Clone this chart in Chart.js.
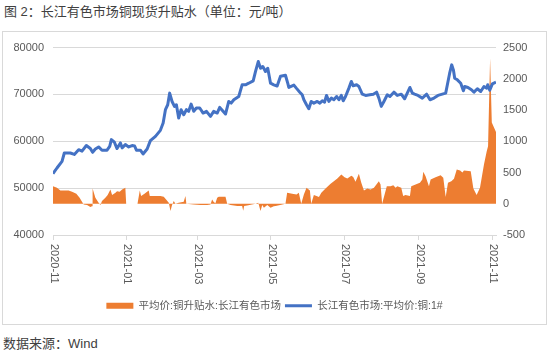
<!DOCTYPE html>
<html><head><meta charset="utf-8">
<script src="https://cdn.jsdelivr.net/npm/chart.js@4/dist/chart.umd.min.js"></script>
<style>
html,body{margin:0;padding:0;background:#fff;}
body{width:555px;height:360px;position:relative;overflow:hidden;font-family:"Liberation Sans","Noto Sans CJK SC",sans-serif;}
#title{position:absolute;left:4px;top:3px;font-size:13px;color:#404040;white-space:nowrap;line-height:18px;}
#box{position:absolute;left:2px;top:31px;width:543px;height:292px;border:1px solid #d9d9d9;}
#src{position:absolute;left:3px;top:335px;font-size:13px;color:#404040;line-height:18px;white-space:nowrap;}
canvas{display:block;}
</style></head>
<body>
<div id="title">图 2：长江有色市场铜现货升贴水（单位：元/吨）</div>
<div id="box"><canvas id="c" width="543" height="292"></canvas></div>
<div id="src">数据来源：Wind</div>
<script>
// x values: days since 2020-11-02
const tickDays = [0, 61, 120, 181, 242, 304, 365];
const tickLabels = ['2020-11', '2021-01', '2021-03', '2021-05', '2021-07', '2021-09', '2021-11'];
const seriesNames = ['平均价:铜升贴水:长江有色市场', '长江有色市场:平均价:铜:1#'];

const priceDays = [0,3.3,7.5,9.4,14.4,17.7,21.3,24.1,27.7,31.0,32.9,35.2,37.9,40.7,44.9,47.1,48.5,51.0,53.2,56.0,57.4,60.1,62.9,65.7,67.8,69.3,72.6,74.8,78.2,80.9,85.1,89.2,91.5,93.4,95.3,96.9,98.9,100.9,102.5,104.4,106.4,108.6,110.8,112.7,114.7,116.9,119.1,121.9,124.7,127.5,130.8,133.5,136.4,138.5,141.3,143.3,146.0,148.0,150.2,154.3,157.1,159.9,162.6,166.3,168.2,170.5,172.4,174.3,176.5,178.4,180.7,183.4,186.2,189.0,193.1,195.1,195.9,200.1,202.3,205.0,207.0,208.4,210.6,212.5,214.5,216.7,219.5,221.7,223.7,225.6,227.2,229.2,231.2,233.3,235.6,237.5,239.5,241.1,243.0,245.8,247.8,249.4,252.2,254.1,256.9,259.7,263.2,266.1,268.8,270.7,272.7,274.9,277.7,279.9,283.2,286.0,289.3,292.1,294.3,296.5,298.5,300.4,303.2,306.8,310.4,313.2,316.5,319.8,323.4,326.2,327.6,329.5,331.2,332.6,333.7,335.9,338.7,340.9,342.0,344.7,347.6,349.7,352.5,355.3,358.0,360.3,361.1,362.8,365.0,368];
const priceValues = [53100,54300,55700,57500,57500,57200,58200,57900,59100,58450,57650,58360,58800,58100,58100,58900,60360,59800,58450,59650,58600,59300,58800,59100,59000,58100,58100,57300,58360,60150,61060,62340,63900,66750,67800,70280,68500,67450,67800,64960,66750,65680,66750,66400,67940,66400,67100,67100,66030,66400,65320,66400,66030,67230,66400,65820,68500,68150,68870,69570,72060,72060,72400,72900,74890,77020,75600,75960,74890,75600,72400,72060,71800,73900,74100,72300,71500,72000,71300,70490,69930,68870,67810,66960,68510,68150,68510,68150,68650,68360,69790,68510,69220,68870,69570,68870,69790,68650,69570,71350,72770,71850,72060,71700,70060,69790,69930,70060,70490,69220,67450,68510,69930,69570,70490,69790,70060,69080,70280,71490,70280,70060,69790,69220,70060,68870,69220,69790,70060,70280,72060,74540,76320,75250,73470,73120,72400,70780,71700,71490,71000,70490,71210,70640,71700,71350,72060,70900,72270,72620];

const basisDays = [0,3.3,6.1,13.0,15.8,19.4,22.1,24.1,25.5,28.3,31.0,32.4,32.9,35.2,37.9,39.4,40.7,43.5,45.4,47.7,49.1,51.9,53.2,55.4,57.4,60.1,60.8,70.2,72.1,73.2,76.0,79.5,80.4,83.6,89.2,92.0,93.4,94.3,96.2,97.6,98.9,100.3,101.7,104.4,108.6,110.0,110.8,116.9,122.5,128.0,130.8,132.2,133.5,134.9,136.4,137.7,143.3,144.7,147.5,153.1,157.1,158.0,158.8,161.3,168.2,170.5,172.4,173.8,175.2,178.0,180.7,183.4,185.0,190.5,193.1,194.5,198.7,202.3,204.2,206.2,208.4,210.6,213.4,214.5,216.7,218.9,220.9,222.9,226.4,228.4,230.6,233.3,236.2,239.5,242.2,244.5,247.8,249.4,251.3,254.1,256.1,258.3,261.1,263.8,266.6,270.7,272.1,273.4,277.3,280.4,282.7,284.6,286.0,289.3,290.9,292.8,296.5,297.6,301.2,304.8,306.8,307.6,309.5,312.3,313.7,317.8,322.0,324.2,326.2,328.1,330.9,333.1,335.4,338.2,340.1,341.4,347.0,349.2,351.9,354.7,358.0,360.3,361.4,363.1,364.5,368];
const basisValues = [282,255,214,214,191,160,96,32,-10,-21,-53,-40,246,96,16,-21,43,96,139,230,139,176,202,191,230,255,0,0,214,123,160,214,123,123,123,112,80,59,16,-116,-21,43,0,16,32,123,0,-10,-21,-21,-10,69,30,10,96,112,112,0,-21,-37,-37,-110,-37,-27,0,16,-116,-21,-64,-21,-64,-40,-37,-10,0,176,160,150,176,0,150,255,214,0,139,123,107,176,246,282,319,362,405,469,426,405,447,430,351,479,335,214,246,230,255,362,309,0,282,282,298,255,282,255,123,139,123,282,309,335,389,511,442,282,389,426,458,415,107,335,362,400,549,532,500,532,522,246,139,255,628,841,921,2330,1300,1150];

const leftTicks = [40000, 80000, 10000];   // min, max, step
const rightTicks = [-500, 2500, 500];

const ORANGE = '#ED7D31';
const BLUE = '#4472C4';
const GRID = '#d9d9d9';
const TXT = '#595959';
const FONT = '"Liberation Sans","Noto Sans CJK SC",sans-serif';

const toXY = (xs, ys) => xs.map((x, i) => ({x: x, y: ys[i]}));

const xLabelPlugin = {
  id: 'xLabels',
  afterDraw(chart) {
    const s = chart.scales.x;
    const ctx = chart.ctx;
    ctx.save();
    ctx.font = '11px ' + FONT;
    ctx.fillStyle = TXT;
    ctx.textAlign = 'left';
    ctx.textBaseline = 'middle';
    s.ticks.forEach((t, i) => {
      const px = s.getPixelForValue(t.value);
      ctx.save();
      ctx.translate(px + 1, s.top + 9);
      ctx.rotate(Math.PI / 2);
      ctx.fillText(tickLabels[i], 0, 0);
      ctx.restore();
    });
    ctx.restore();
  }
};

new Chart(document.getElementById('c'), {
  type: 'line',
  data: {
    datasets: [
      {
        label: seriesNames[0],
        data: toXY(basisDays, basisValues),
        yAxisID: 'y1',
        fill: 'origin',
        backgroundColor: ORANGE,
        borderColor: 'rgba(0,0,0,0)',
        borderWidth: 0,
        pointRadius: 0,
        tension: 0,
        order: 1
      },
      {
        label: seriesNames[1],
        data: toXY(priceDays, priceValues),
        yAxisID: 'y',
        fill: false,
        borderColor: BLUE,
        backgroundColor: BLUE,
        borderWidth: 3,
        borderJoinStyle: 'round',
        pointRadius: 0,
        tension: 0,
        order: 0
      }
    ]
  },
  options: {
    responsive: false,
    animation: false,
    devicePixelRatio: 1,
    layout: {padding: {top: 14, left: 0, right: 0, bottom: 3}},
    plugins: {
      tooltip: {enabled: false},
      legend: {
        position: 'bottom',
        labels: {
          usePointStyle: true,
          pointStyleWidth: 27,
          boxHeight: 6,
          padding: 4,
          color: TXT,
          font: {size: 10.5, family: FONT},
          generateLabels: (chart) => chart.data.datasets.map((ds, i) => ({
            text: ds.label,
            fillStyle: i === 0 ? ORANGE : BLUE,
            strokeStyle: i === 0 ? ORANGE : BLUE,
            lineWidth: i === 0 ? 0 : 3,
            pointStyle: i === 0 ? 'rect' : 'line',
            hidden: false,
            datasetIndex: i,
            fontColor: TXT
          }))
        }
      }
    },
    scales: {
      x: {
        type: 'linear',
        min: 0,
        max: 368,
        afterBuildTicks: (s) => { s.ticks = tickDays.map(v => ({value: v})); },
        ticks: {display: false, autoSkip: false},
        grid: {display: true, drawOnChartArea: false, drawTicks: true, tickLength: 5, color: GRID},
        border: {display: true, color: GRID},
        afterFit: (s) => { s.height = 61.5; }
      },
      y: {
        position: 'left',
        min: leftTicks[0],
        max: leftTicks[1],
        ticks: {stepSize: leftTicks[2], color: TXT, font: {size: 11, family: FONT}, padding: 9, callback: v => String(v)},
        grid: {color: GRID, drawTicks: false},
        border: {display: false},
        afterFit: (s) => { s.width = 50; }
      },
      y1: {
        position: 'right',
        min: rightTicks[0],
        max: rightTicks[1],
        ticks: {stepSize: rightTicks[2], color: TXT, font: {size: 11, family: FONT}, padding: 7, callback: v => String(v)},
        grid: {display: false, drawTicks: false},
        border: {display: false},
        afterFit: (s) => { s.width = 50; }
      }
    }
  },
  plugins: [xLabelPlugin]
});
</script>
</body></html>
